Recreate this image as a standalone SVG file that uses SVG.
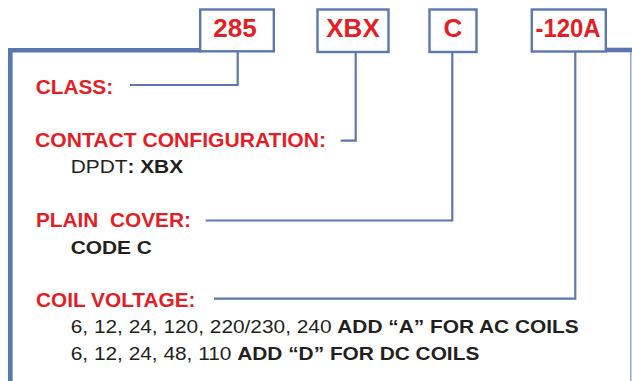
<svg xmlns="http://www.w3.org/2000/svg" width="632" height="381" viewBox="0 0 632 381">
<style>
.box{fill:#fff;stroke:#5a78ad;stroke-width:2.4}
.frame{fill:none;stroke:#5a78ad;stroke-width:4.6}
.conn{fill:none;stroke:#5a78ad;stroke-width:2.2}
.code{font-family:"Liberation Sans",Arial,sans-serif;font-weight:bold;font-size:26px;fill:#e41e26;text-anchor:middle}
.head{font-family:"Liberation Sans",Arial,sans-serif;font-weight:bold;font-size:20.8px;fill:#e41e26}
.body{font-family:"Liberation Sans",Arial,sans-serif;font-size:18.3px;fill:#231f20}
.b{font-weight:bold}
</style>
<rect width="632" height="381" fill="#fff"/>
<g id="frame">
<polyline class="frame" points="10.3,381 10.3,50.2 201,50.2"/>
<line class="frame" x1="606" y1="50" x2="632" y2="50"/>
<line x1="630.8" y1="52" x2="630.8" y2="381" stroke="#8aa0c8" stroke-width="1.4"/>
</g>
<g id="connectors">
<polyline class="conn" points="130,85 237.7,85 237.7,51"/>
<polyline class="conn" points="340.7,140.7 355.7,140.7 355.7,52"/>
<polyline class="conn" points="205.7,220.5 452.3,220.5 452.3,52"/>
<polyline class="conn" points="214,298.7 575.3,298.7 575.3,51.5"/>
</g>
<g id="box-285">
<rect class="box" x="200.2" y="9.5" width="73.6" height="41.8"/>
<text class="code" x="235" y="36.7">285</text>
</g>
<g id="box-xbx">
<rect class="box" x="317.5" y="9.5" width="71" height="42.5"/>
<text class="code" x="353" y="36.7">XBX</text>
</g>
<g id="box-c">
<rect class="box" x="429.5" y="9.5" width="47" height="42.5"/>
<text class="code" x="453" y="36.7">C</text>
</g>
<g id="box-120a">
<rect class="box" x="531.8" y="9.5" width="74" height="42"/>
<text class="code" x="568" y="36.7" textLength="65" lengthAdjust="spacingAndGlyphs">-120A</text>
</g>
<g id="class">
<text class="head" x="35.7" y="93.7">CLASS:</text>
</g>
<g id="contact">
<text class="head" x="35" y="146.7" textLength="291" lengthAdjust="spacingAndGlyphs">CONTACT CONFIGURATION:</text>
<text class="body" transform="translate(70.7 173) scale(1.14 1)">DPDT<tspan class="b">: XBX</tspan></text>
</g>
<g id="cover">
<text class="head" x="36" y="227.3" style="white-space:pre">PLAIN  COVER:</text>
<text class="body b" transform="translate(70.7 253.8) scale(1.14 1)">CODE C</text>
</g>
<g id="voltage">
<text class="head" x="36" y="306.7">COIL VOLTAGE:</text>
<text class="body" transform="translate(70.7 333.3) scale(1.14 1)">6, 12, 24, 120, 220/230, 240 <tspan class="b">ADD “A” FOR AC COILS</tspan></text>
<text class="body" transform="translate(70.7 360) scale(1.14 1)">6, 12, 24, 48, 110 <tspan class="b">ADD “D” FOR DC COILS</tspan></text>
</g>
</svg>
